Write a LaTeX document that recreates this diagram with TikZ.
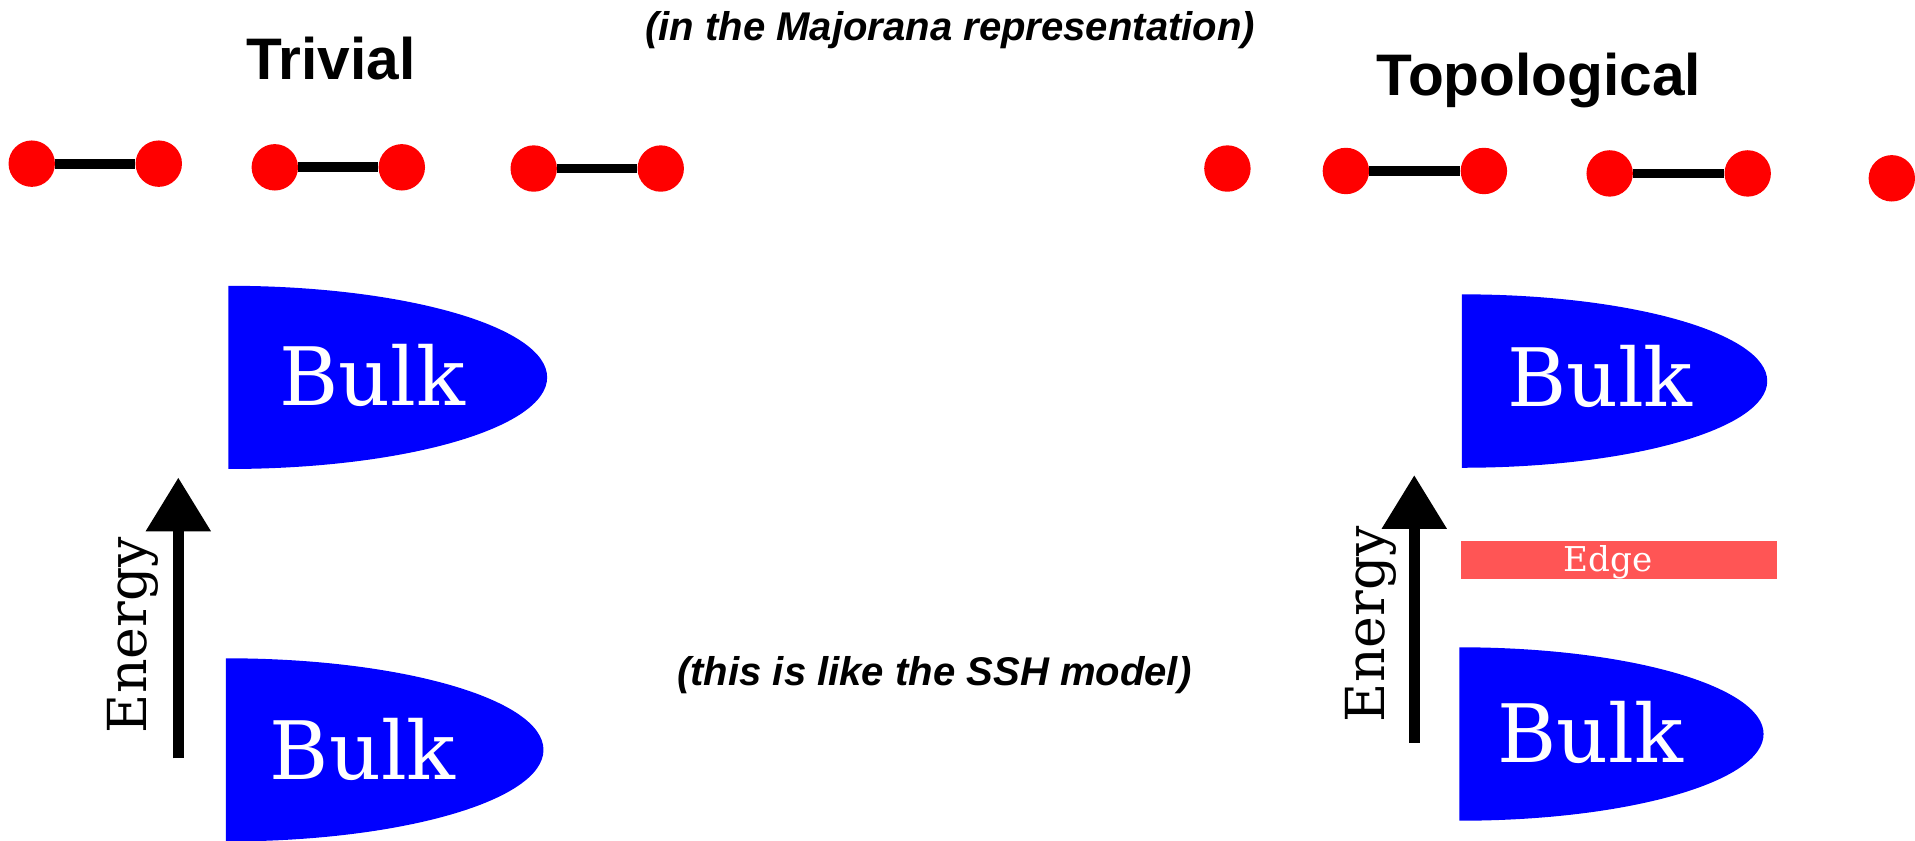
\documentclass[tikz,border=0pt]{standalone}
\usepackage{fontspec}
\setmainfont{DejaVu Serif}
\newfontfamily\headfont{Liberation Sans}
\usetikzlibrary{arrows.meta}

\definecolor{bandblue}{HTML}{0000FF}
\definecolor{sitered}{HTML}{FF0000}
\definecolor{edgered}{HTML}{FF5555}

\tikzset{
  site/.style={circle, fill=sitered, draw=none, minimum size=38pt, inner sep=0pt},
  bond/.style={line width=8pt, black},
  heading/.style={font=\headfont\bfseries\fontsize{48}{56}\selectfont, anchor=base, inner sep=0pt},
  remark/.style={font=\headfont\bfseries\itshape\fontsize{32.8}{38}\selectfont, anchor=base, inner sep=0pt},
  bandlabel/.style={font=\fontsize{66}{74}\selectfont, text=white, anchor=base, inner sep=0pt},
  edgelabel/.style={font=\fontsize{28}{32}\selectfont, text=white, anchor=base, inner sep=0pt},
  axislabel/.style={font=\fontsize{44}{50}\selectfont, rotate=90, anchor=base, inner sep=0pt},
  energyarrow/.style={line width=9pt, -{Triangle[length=44pt, width=51pt]}},
}

\begin{document}
\begin{tikzpicture}[x=1pt, y=-1pt]
  \useasboundingbox (0,0) rectangle (1568,688);
  \fill[white] (0,0) rectangle (1568,688);

  % headings and remarks
  \node[heading] (ttriv) at (271,65) {Trivial};
  \node[heading] (ttopo) at (1260,78) {Topological};
  \node[remark] (rmaj) at (778,33) {(in the Majorana representation)};
  \node[remark] (rssh) at (765,561) {(this is like the SSH model)};

  % trivial chain: Majoranas paired within each site
  \node[site] (a1) at (26,134) {};
  \node[site] (a2) at (130,134) {};
  \node[site] (a3) at (225,137) {};
  \node[site] (a4) at (329,137) {};
  \node[site] (a5) at (437,138) {};
  \node[site] (a6) at (541,138) {};
  \draw[bond] (a1) -- (a2);
  \draw[bond] (a3) -- (a4);
  \draw[bond] (a5) -- (a6);

  % topological chain: unpaired Majoranas at the ends
  \node[site] (b1) at (1005,138) {};
  \node[site] (b2) at (1102,140) {};
  \node[site] (b3) at (1215,140) {};
  \node[site] (b4) at (1318,142) {};
  \node[site] (b5) at (1431,142) {};
  \node[site] (b6) at (1549,146) {};
  \draw[bond] (b2) -- (b3);
  \draw[bond] (b4) -- (b5);

  % trivial spectrum
  \fill[bandblue] (187,384) arc[start angle=90, end angle=-90, x radius=261, y radius=75] -- cycle;
  \fill[bandblue] (185,689) arc[start angle=90, end angle=-90, x radius=260, y radius=75] -- cycle;
  \node[bandlabel] (bulk1) at (305,332) {Bulk};
  \node[bandlabel] (bulk2) at (297,638) {Bulk};
  \coordinate (e1s) at (146,621);
  \coordinate (e1t) at (146,391);
  \draw[energyarrow] (e1s) -- (e1t);
  \node[axislabel] (en1) at (120,520) {Energy};

  % topological spectrum
  \fill[bandblue] (1197,383) arc[start angle=90, end angle=-90, x radius=250, y radius=71] -- cycle;
  \fill[bandblue] (1195,672) arc[start angle=90, end angle=-90, x radius=249, y radius=71] -- cycle;
  \node[bandlabel] (bulk3) at (1310,333) {Bulk};
  \node[bandlabel] (bulk4) at (1302,624) {Bulk};
  \fill[edgered] (1196,443) rectangle (1455,474);
  \node[edgelabel] (edge) at (1317,468) {Edge};
  \coordinate (e2s) at (1158,608);
  \coordinate (e2t) at (1158,389);
  \draw[energyarrow] (e2s) -- (e2t);
  \node[axislabel] (en2) at (1134,511) {Energy};
\end{tikzpicture}
\end{document}
